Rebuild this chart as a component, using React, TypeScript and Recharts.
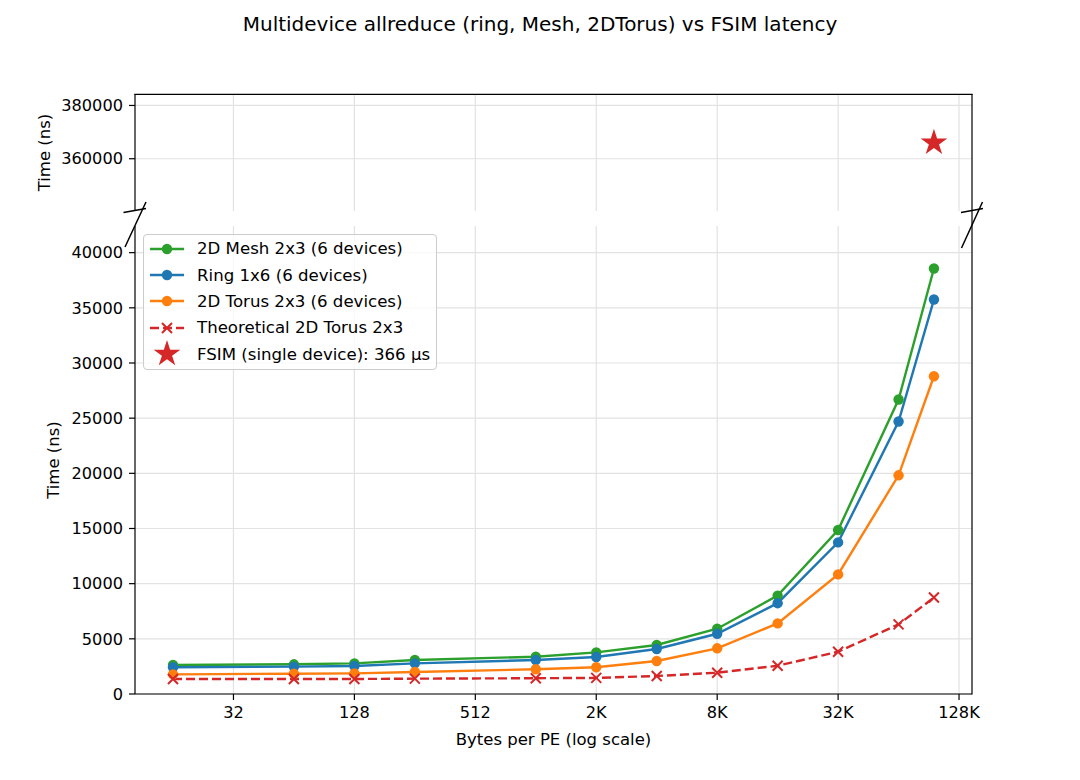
import { CartesianGrid, ComposedChart, Legend, Line, Scatter, XAxis, YAxis } from "recharts"

// bytes per PE (x) and measured latency in ns (y)
const bytes = [16, 64, 128, 256, 1024, 2048, 4096, 8192, 16384, 32768, 65536, 98304]
const meshNs = [2630, 2690, 2780, 3080, 3380, 3770, 4440, 5920, 8920, 14860, 26690, 38560]
const ringNs = [2420, 2480, 2540, 2780, 3080, 3350, 4080, 5460, 8230, 13740, 24700, 35750]
const torusNs = [1780, 1840, 1870, 1990, 2240, 2420, 2990, 4140, 6400, 10840, 19820, 28800]
const theoryNs = [1360, 1360, 1360, 1390, 1430, 1460, 1630, 1930, 2560, 3830, 6310, 8740]

const fsimBytes = [98304]
const fsimNs = [366000]

const xTicks = [32, 128, 512, 2048, 8192, 32768, 131072]
const lowTicks = [0, 5000, 10000, 15000, 20000, 25000, 30000, 35000, 40000]
const highTicks = [360000, 380000]

const rows = bytes.map((b, i) => ({
  bytes: b,
  mesh: meshNs[i],
  ring: ringNs[i],
  torus: torusNs[i],
  theory: theoryNs[i],
}))
const fsimRows = fsimBytes.map((b, i) => ({ bytes: b, ns: fsimNs[i] }))

const FONT = "'DejaVu Sans', sans-serif"
const GREEN = "#2ca02c"
const BLUE = "#1f77b4"
const ORANGE = "#ff7f0e"
const RED = "#d62728"

const X_DOMAIN = [10.35, 152080]
const LOW_DOMAIN = [0, 42416]
const HIGH_DOMAIN = [340380, 384300]

const tickStyle = { fill: "#000", fontSize: 16.2, fontFamily: FONT }
const labelStyle = { fill: "#000", fontSize: 16.5, fontFamily: FONT }

const fmtBytes = (v: number) => (v >= 1024 ? `${v / 1024}K` : `${v}`)

function starPoints(cx: number, cy: number, r: number) {
  const pts: string[] = []
  for (let k = 0; k < 10; k++) {
    const rad = k % 2 === 0 ? r : r * 0.382
    const a = -Math.PI / 2 + (k * Math.PI) / 5
    pts.push(`${cx + rad * Math.cos(a)},${cy + rad * Math.sin(a)}`)
  }
  return pts.join(" ")
}

function StarMark({ cx, cy, r = 14, color = RED }: any) {
  return <polygon points={starPoints(cx, cy, r)} fill={color} />
}

function XMark({ cx, cy, color = RED }: any) {
  const s = 5
  return (
    <path
      d={`M${cx - s},${cy - s}L${cx + s},${cy + s}M${cx - s},${cy + s}L${cx + s},${cy - s}`}
      stroke={color}
      strokeWidth={2}
      fill="none"
    />
  )
}

const renderX = (props: any) => <XMark key={`x-${props.index}`} cx={props.cx} cy={props.cy} />

// upper panel shares the x grid but shows no tick labels
const noTick = () => <g />

const legendItems = [
  { label: "2D Mesh 2x3 (6 devices)", color: GREEN, kind: "dot" },
  { label: "Ring 1x6 (6 devices)", color: BLUE, kind: "dot" },
  { label: "2D Torus 2x3 (6 devices)", color: ORANGE, kind: "dot" },
  { label: "Theoretical 2D Torus 2x3", color: RED, kind: "x" },
  { label: "FSIM (single device): 366 µs", color: RED, kind: "star" },
]

function Handle({ kind, color }: { kind: string; color: string }) {
  return (
    <svg width={48} height={26} style={{ flex: "none", overflow: "visible" }}>
      {kind !== "star" && (
        <line
          x1={6}
          x2={40}
          y1={13}
          y2={13}
          stroke={color}
          strokeWidth={2.4}
          strokeDasharray={kind === "x" ? "9 4" : undefined}
        />
      )}
      {kind === "dot" && <circle cx={23} cy={13} r={5.2} fill={color} />}
      {kind === "x" && <XMark cx={23} cy={13} color={color} />}
      {kind === "star" && <StarMark cx={23} cy={13} r={14} color={color} />}
    </svg>
  )
}

function LegendBox() {
  return (
    <div
      style={{
        boxSizing: "border-box",
        width: 294,
        height: 136,
        border: "1px solid #cccccc",
        borderRadius: 4,
        background: "rgba(255,255,255,0.8)",
        padding: "0.5px 0 1.5px 0",
        fontFamily: FONT,
        fontSize: 16.6,
        color: "#000",
      }}
    >
      {legendItems.map((it) => (
        <div key={it.label} style={{ display: "flex", alignItems: "center", height: 26.4 }}>
          <Handle kind={it.kind} color={it.color} />
          <span style={{ marginLeft: 5, whiteSpace: "nowrap" }}>{it.label}</span>
        </div>
      ))}
    </div>
  )
}

export default function App() {
  return (
    <div style={{ position: "absolute", left: 0, top: 0, width: 1080, height: 780, background: "#fff" }}>
      <div
        style={{
          position: "absolute",
          left: 0,
          top: 12,
          width: 1080,
          textAlign: "center",
          fontFamily: FONT,
          fontSize: 20,
          color: "#000",
        }}
      >
        Multidevice allreduce (ring, Mesh, 2DTorus) vs FSIM latency
      </div>

      {/* lower panel: 0 .. 42k ns */}
      <div style={{ position: "absolute", left: 0, top: 0 }}>
        <ComposedChart width={1080} height={780} data={rows} margin={{ top: 226, right: 108, bottom: 0, left: 0 }}>
          <CartesianGrid stroke="#e2e2e2" strokeWidth={1.2} syncWithTicks />
          <XAxis
            dataKey="bytes"
            type="number"
            scale="log"
            domain={X_DOMAIN}
            allowDataOverflow
            ticks={xTicks}
            interval={0}
            tickFormatter={fmtBytes}
            height={86}
            stroke="#000"
            strokeWidth={1.2}
            tickSize={6}
            tickMargin={6}
            tick={tickStyle}
            label={{
              value: "Bytes per PE (log scale)",
              position: "insideTop",
              offset: 39,
              style: labelStyle,
            }}
          />
          <YAxis
            type="number"
            domain={LOW_DOMAIN}
            allowDataOverflow
            ticks={lowTicks}
            interval={0}
            width={135}
            stroke="#000"
            strokeWidth={1.2}
            tickSize={6}
            tickMargin={6}
            tick={tickStyle}
            label={{
              value: "Time (ns)",
              angle: -90,
              position: "insideLeft",
              offset: 53,
              style: { ...labelStyle, textAnchor: "middle" },
            }}
          />
          <Line
            dataKey="mesh"
            stroke={GREEN}
            strokeWidth={2.4}
            dot={{ r: 5.2, fill: GREEN, stroke: "none" }}
            activeDot={false}
            isAnimationActive={false}
          />
          <Line
            dataKey="ring"
            stroke={BLUE}
            strokeWidth={2.4}
            dot={{ r: 5.2, fill: BLUE, stroke: "none" }}
            activeDot={false}
            isAnimationActive={false}
          />
          <Line
            dataKey="torus"
            stroke={ORANGE}
            strokeWidth={2.4}
            dot={{ r: 5.2, fill: ORANGE, stroke: "none" }}
            activeDot={false}
            isAnimationActive={false}
          />
          <Line
            dataKey="theory"
            stroke={RED}
            strokeWidth={2.4}
            strokeDasharray="9 4"
            dot={renderX}
            activeDot={false}
            isAnimationActive={false}
          />
          <Legend
            layout="vertical"
            align="center"
            verticalAlign="middle"
            wrapperStyle={{ left: 143, top: 234, width: 294, height: 136 }}
            content={() => <LegendBox />}
          />
        </ComposedChart>
      </div>

      {/* upper panel: FSIM single device */}
      <div style={{ position: "absolute", left: 0, top: 0 }}>
        <ComposedChart width={1080} height={230} data={fsimRows} margin={{ top: 94, right: 108, bottom: 19, left: 0 }}>
          <CartesianGrid stroke="#e2e2e2" strokeWidth={1.2} syncWithTicks />
          <XAxis
            dataKey="bytes"
            type="number"
            scale="log"
            domain={X_DOMAIN}
            allowDataOverflow
            ticks={xTicks}
            interval={0}
            height={0}
            tick={noTick}
            tickLine={false}
            axisLine={false}
          />
          <YAxis
            type="number"
            domain={HIGH_DOMAIN}
            allowDataOverflow
            ticks={highTicks}
            interval={0}
            width={135}
            stroke="#000"
            strokeWidth={1.2}
            tickSize={6}
            tickMargin={6}
            tick={tickStyle}
            label={{
              value: "Time (ns)",
              angle: -90,
              position: "insideLeft",
              offset: 44,
              style: { ...labelStyle, textAnchor: "middle" },
            }}
          />
          <Scatter
            dataKey="ns"
            fill={RED}
            shape={(p: any) => <StarMark cx={p.cx} cy={p.cy} r={14} />}
            isAnimationActive={false}
          />
        </ComposedChart>
      </div>

      {/* top and right spines, broken-axis marks */}
      <svg width={1080} height={780} style={{ position: "absolute", left: 0, top: 0, pointerEvents: "none" }}>
        <g stroke="#000" strokeWidth={1.5} fill="none">
          <line x1={134.4} y1={94.4} x2={972.6} y2={94.4} strokeWidth={1.2} />
          <line x1={972} y1={94} x2={972} y2={694.6} strokeWidth={1.2} />
          <line x1={123.5} y1={212.5} x2={146} y2={208.5} />
          <line x1={125} y1={247} x2={146} y2={202} />
          <line x1={961} y1={212.5} x2={983} y2={208.5} />
          <line x1={961.5} y1={248} x2={982.5} y2={202} />
        </g>
      </svg>
    </div>
  )
}
